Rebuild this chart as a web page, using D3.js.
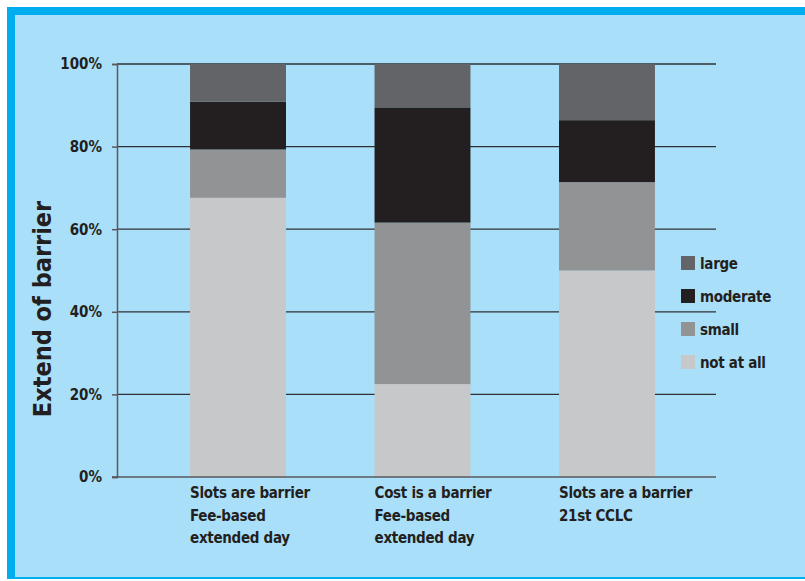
<!DOCTYPE html>
<html lang="en">
<head>
  <meta charset="UTF-8">
  <title>Extend of barrier</title>
  <script src="https://d3js.org/d3.v7.min.js"></script>
  <style>
    body { margin: 0; background: #fff; }
    text { font-family: "DejaVu Sans Condensed", "DejaVu Sans", sans-serif; font-weight: bold; fill: #231f20; }
  </style>
</head>
<body>
  <svg id="chart" width="805" height="581"></svg>
  <script>
    const width = 805;
    const height = 581;

    // data (percent of respondents)
    const categories = [
      ['Slots are barrier', 'Fee-based', 'extended day'],
      ['Cost is a barrier', 'Fee-based', 'extended day'],
      ['Slots are a barrier', '21st CCLC']
    ];
    const keys = ['notAtAll', 'small', 'moderate', 'large'];
    const keyLabels = ['not at all', 'small', 'moderate', 'large'];
    const notAtAll = [67.6, 22.5, 50.0];
    const small = [11.7, 39.1, 21.4];
    const moderate = [11.6, 27.9, 15.0];
    const large = [9.1, 10.5, 13.6];
    const yTicks = [0, 20, 40, 60, 80, 100];

    const colors = {
      notAtAll: '#c7c8ca',
      small: '#929395',
      moderate: '#231f20',
      large: '#636468'
    };

    const rows = categories.map((c, i) => ({
      id: i,
      notAtAll: notAtAll[i],
      small: small[i],
      moderate: moderate[i],
      large: large[i]
    }));

    const svg = d3.select('#chart');

    // panel with blue frame
    svg.append('rect')
      .attr('x', 7).attr('y', 7)
      .attr('width', width + 20).attr('height', 579 - 7)
      .attr('fill', '#00aeef');
    svg.append('rect')
      .attr('x', 15).attr('y', 15)
      .attr('width', width).attr('height', 577 - 15)
      .attr('fill', '#aadff9');

    const plot = { left: 117, right: 716, top: 64, bottom: 477 };

    const x = d3.scaleBand()
      .domain(rows.map(d => d.id))
      .range([101.5, 743.5])
      .paddingInner(0.48)
      .paddingOuter(0.48);

    const y = d3.scaleLinear()
      .domain([0, 100])
      .range([plot.bottom, plot.top]);

    // gridlines
    svg.append('g')
      .selectAll('line')
      .data(yTicks.filter(t => t > 0))
      .enter().append('line')
      .attr('x1', plot.left).attr('x2', plot.right)
      .attr('y1', d => y(d)).attr('y2', d => y(d))
      .attr('stroke', '#2e3235')
      .attr('stroke-width', 1.3);

    // stacked bars
    const stack = d3.stack().keys(keys)(rows);
    svg.append('g')
      .selectAll('g')
      .data(stack)
      .enter().append('g')
      .attr('fill', d => colors[d.key])
      .selectAll('rect')
      .data(d => d)
      .enter().append('rect')
      .attr('x', d => x(d.data.id))
      .attr('width', x.bandwidth())
      .attr('y', d => y(d[1]))
      .attr('height', d => y(d[0]) - y(d[1]));

    // y axis
    const yAxis = svg.append('g')
      .attr('transform', `translate(${plot.left},0)`)
      .call(d3.axisLeft(y).tickValues(yTicks).tickFormat(d => d + '%').tickSize(5).tickPadding(10));
    yAxis.attr('font-family', null);
    yAxis.select('.domain').attr('stroke', '#58595b').attr('stroke-width', 1.5);
    yAxis.selectAll('.tick line').attr('stroke', '#58595b').attr('stroke-width', 1.5);
    yAxis.selectAll('.tick text')
      .attr('font-size', 15)
      .attr('fill', '#231f20');

    // x axis baseline
    svg.append('line')
      .attr('x1', plot.left - 5).attr('x2', plot.right)
      .attr('y1', plot.bottom).attr('y2', plot.bottom)
      .attr('stroke', '#58595b')
      .attr('stroke-width', 1.5);

    // category labels
    svg.append('g')
      .selectAll('text')
      .data(rows)
      .enter().append('text')
      .attr('x', d => x(d.id))
      .attr('y', 498)
      .attr('font-size', 15)
      .attr('letter-spacing', -0.3)
      .selectAll('tspan')
      .data(d => categories[d.id])
      .enter().append('tspan')
      .attr('x', function () { return d3.select(this.parentNode).attr('x'); })
      .attr('dy', (d, i) => i === 0 ? 0 : 22.5)
      .text(d => d);

    // y axis title
    svg.append('text')
      .attr('transform', 'translate(51,309) rotate(-90)')
      .attr('text-anchor', 'middle')
      .attr('font-size', 25)
      .text('Extend of barrier');

    // legend
    const legendOrder = keys.slice().reverse();
    const legend = svg.append('g')
      .selectAll('g')
      .data(legendOrder)
      .enter().append('g')
      .attr('transform', (d, i) => `translate(681,${263 + i * 33})`);
    legend.append('rect')
      .attr('x', 0).attr('y', -7)
      .attr('width', 14).attr('height', 14)
      .attr('fill', d => colors[d]);
    legend.append('text')
      .attr('x', 19).attr('y', 6)
      .attr('font-size', 15)
      .attr('letter-spacing', -0.3)
      .text(d => keyLabels[keys.indexOf(d)]);
  </script>
</body>
</html>
